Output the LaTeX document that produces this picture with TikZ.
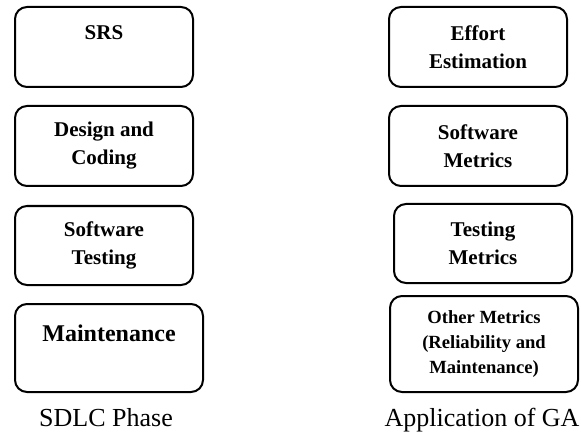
\documentclass[tikz,border=0pt]{standalone}
\usepackage{fontspec}
\setmainfont{Liberation Serif}

\begin{document}
\begin{tikzpicture}[x=0.5pt, y=-0.5pt,
    phase/.style={draw, line width=1pt, rounded corners=6pt, align=center,
      font=\bfseries\fontsize{10.5}{14}\selectfont, minimum width=89pt, minimum height=40pt, inner sep=0pt},
    caption/.style={font=\fontsize{13}{15}\selectfont, anchor=base}]
    \useasboundingbox (0,0) rectangle (581,432);

    \node[phase] (SRS) at (104,47) {SRS\\~};
    \node[phase] (DC) at (104,146) {Design and\\Coding};
    \node[phase, minimum height=39.5pt] (ST) at (104,245.5) {Software\\Testing};
    \node[phase, minimum width=94pt, minimum height=44pt, font=\bfseries\fontsize{12}{15}\selectfont] (MT) at (109,348) {Maintenance\\~};

    \node[phase] (EE) at (478,47) {Effort\\Estimation};
    \node[phase] (SM) at (478,146) {Software\\Metrics};
    \node[phase, minimum height=39.5pt] (TM) at (483,243.5) {Testing\\Metrics};
    \node[phase, minimum width=94pt, minimum height=48pt, font=\bfseries\fontsize{9.3}{12.5}\selectfont] (OM) at (484,344) {Other Metrics\\(Reliability and\\Maintenance)};

    \node[caption] (SDLC) at (106,426) {SDLC Phase};
    \node[caption] (GA) at (482,426) {Application of GA};
  \end{tikzpicture}
\end{document}
